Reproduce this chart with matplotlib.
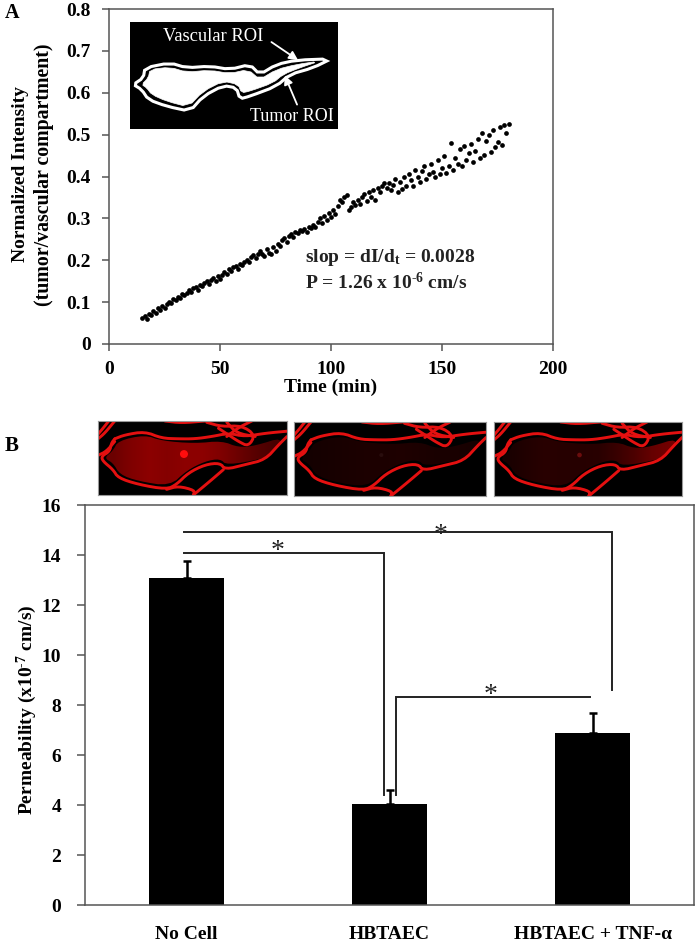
import matplotlib
matplotlib.use("Agg")
import matplotlib.pyplot as plt
import numpy as np
from matplotlib.patches import Polygon, Circle

plt.rcParams["font.family"] = ["Liberation Serif", "DejaVu Serif"]
plt.rcParams["font.weight"] = "bold"
plt.rcParams["mathtext.fontset"] = "custom"
plt.rcParams["mathtext.bf"] = "Liberation Serif:bold"
plt.rcParams["mathtext.rm"] = "Liberation Serif:bold"

W, H = 700, 943
SPINE = "#555555"

# panel A data
time_min = list(range(15, 181))
intensity = [
    .062, .068, .060, .072, .070, .078, .074, .085, .082, .090,
    .086, .095, .100, .098, .107, .104, .113, .110, .120, .116,
    .122, .128, .125, .133, .136, .130, .140, .138, .145, .150,
    .143, .152, .158, .150, .162, .156, .165, .172, .168, .178,
    .175, .183, .186, .180, .192, .188, .196, .200, .195, .207,
    .212, .205, .216, .222, .214, .210, .226, .218, .215, .232,
    .222, .240, .235, .248, .252, .244, .258, .262, .255, .268,
    .264, .272, .270, .275, .268, .280, .276, .285, .280, .292,
    .300, .288, .305, .296, .312, .303, .320, .310, .330, .345,
    .338, .352, .355, .320, .328, .340, .332, .345, .335, .352,
    .358, .342, .364, .350, .368, .345, .372, .362, .378, .384,
    .372, .385, .368, .380, .395, .362, .388, .370, .400, .378,
    .405, .392, .378, .415, .400, .388, .412, .425, .395, .405,
    .430, .410, .398, .440, .405, .420, .450, .408, .425, .480,
    .415, .445, .430, .465, .425, .472, .440, .455, .478, .435,
    .462, .490, .445, .505, .452, .485, .498, .458, .510, .470,
    .482, .518, .475, .522, .505, .525,
]

# panel B data
groups = ["No Cell", "HBTAEC", "HBTAEC + TNF-α"]
permeability = [13.08, 4.05, 6.88]
perm_err = [0.69, 0.55, 0.82]

# significance brackets, (group position, permeability) along each line
bracket_top_x = [-0.01, 2.096, 2.096]
bracket_top_y = [14.92, 14.92, 8.6]
bracket_mid_x = [-0.01, 0.973, 0.973]
bracket_mid_y = [14.09, 14.09, 4.4]
bracket_low_x = [1.032, 1.032, 1.987]
bracket_low_y = [4.4, 8.32, 8.32]

# ROI outlines
inset_outer = [(100, 255), (130, 235), (135, 205), (210, 190), (260, 205), (330, 200), (390, 210),
               (450, 195), (480, 225), (530, 195), (590, 182), (695, 178), (640, 205), (570, 225),
               (530, 260), (450, 290), (420, 298), (410, 265), (370, 258), (310, 290), (270, 335),
               (200, 320), (145, 300), (125, 270)]
inset_inner = [(125, 255), (145, 235), (150, 210), (210, 203), (260, 218), (330, 212), (390, 222),
               (445, 210), (480, 240), (530, 210), (590, 195), (660, 185), (600, 205), (550, 225),
               (520, 250), (450, 275), (425, 280), (415, 255), (370, 245), (310, 275), (265, 322),
               (200, 305), (155, 285), (140, 265)]

red_lines = [
    [(60, 62), (90, 50), (150, 40), (200, 60), (250, 62), (300, 62), (350, 55), (400, 45), (450, 55),
     (510, 45), (585, 38)],
    [(60, 62), (50, 75), (45, 100), (20, 115), (25, 130), (55, 155), (70, 180), (130, 200), (215, 215),
     (245, 200), (280, 165), (330, 140), (375, 135), (390, 155), (450, 140), (510, 125), (550, 80), (575, 55)],
    [(60, 8), (30, 45), (10, 62)],
    [(42, 8), (25, 30), (10, 48)],
    [(60, 70), (35, 100), (10, 112)],
    [(215, 215), (250, 205), (300, 218), (295, 232)],
    [(295, 232), (345, 190), (385, 155)],
    [(210, 8), (260, 14), (330, 8)],
    [(335, 12), (380, 25), (440, 22), (480, 50), (460, 85), (430, 70), (400, 50), (370, 30)],
    [(470, 8), (430, 28), (395, 55)],
    [(395, 12), (425, 45), (480, 55)],
]
tumor_region = [(70, 68), (150, 50), (200, 68), (300, 76), (380, 68), (430, 88), (480, 83), (565, 56),
                (535, 105), (505, 122), (395, 142), (375, 122), (330, 130), (275, 158), (225, 205),
                (130, 190), (75, 170), (55, 135), (28, 120), (55, 98)]

# brightness of the tumor along x, left to right, and the bright spot
panel_rects = [(98, 421, 287, 495), (294, 422, 486, 496), (494, 422, 682, 496)]
panel_glow = [
    [.42, .50, .55, .52, .55, .55, .50, .42, .34, .28],
    [.08, .09, .10, .11, .11, .12, .11, .10, .10, .09],
    [.10, .13, .16, .15, .15, .16, .22, .30, .40, .45],
]
panel_spot = [(1.0, 12), (.16, 6), (.42, 7)]


def px_axes(fig, left, top, right, bottom):
    return fig.add_axes([left / W, 1 - bottom / H, (right - left) / W, (bottom - top) / H])


def style_spines(ax):
    for s in ax.spines.values():
        s.set_color(SPINE)
        s.set_linewidth(1.1)
    ax.tick_params(colors=SPINE, width=1.1, length=5, labelcolor="black", labelsize=14)


def rounded(points, closed=False, passes=2):
    # corner cutting, only for the hand traced outlines
    pts = np.array(points, dtype=float)
    for _ in range(passes):
        a = pts if closed else pts[:-1]
        b = np.roll(pts, -1, axis=0) if closed else pts[1:]
        cut = np.empty((2 * len(a), 2))
        cut[0::2] = 0.75 * a + 0.25 * b
        cut[1::2] = 0.25 * a + 0.75 * b
        pts = cut if closed else np.vstack([pts[0], cut, pts[-1]])
    return pts


fig = plt.figure(figsize=(W / 100, H / 100), dpi=100)

# A
ax_a = px_axes(fig, 109, 9, 553, 344)
ax_a.plot(time_min, intensity, "o", color="black", ms=3.4, mew=0)
ax_a.set_xlim(0, 200)
ax_a.set_ylim(0, 0.8)
ax_a.set_xticks([0, 50, 100, 150, 200])
ax_a.set_yticks(np.arange(0, 0.81, 0.1))
ax_a.set_yticklabels(["0", "0.1", "0.2", "0.3", "0.4", "0.5", "0.6", "0.7", "0.8"])
style_spines(ax_a)
ax_a.tick_params(axis="y", pad=8)
ax_a.tick_params(axis="x", pad=7)
fig.text(331 / W, 1 - 387 / H, "Time (min)", ha="center", va="center", fontsize=14)
fig.text(21 / W, 1 - 174 / H, "Normalized Intensity", rotation=90, ha="center", va="center", fontsize=14)
fig.text(44 / W, 1 - 175 / H, "(tumor/vascular compartment)", rotation=90, ha="center", va="center", fontsize=14.3)
fig.text(305 / W, 1 - 257 / H, r"slop = dI/d$\mathbf{_t}$ = 0.0028", va="center", fontsize=14, color="#222222")
fig.text(305 / W, 1 - 282 / H, "P = 1.26 x 10$\\mathbf{^{\u2010 6}}$ cm/s", va="center", fontsize=14, color="#222222")
fig.text(5 / W, 1 - 13 / H, "A", va="center", fontsize=14.5)

# A inset
ax_in = px_axes(fig, 130, 22, 338, 129)
ax_in.set_facecolor("black")
ax_in.set_xlim(90, 715)
ax_in.set_ylim(388, 68)
ax_in.set_xticks([])
ax_in.set_yticks([])
for s in ax_in.spines.values():
    s.set_visible(False)
ax_in.add_patch(Polygon(rounded(inset_outer, closed=True, passes=1), closed=True, fc="none", ec="white", lw=2.2))
ax_in.add_patch(Polygon(rounded(inset_inner, closed=True, passes=1), closed=True, fc="white", ec="white", lw=0.5))
ax_in.text(190, 110, "Vascular ROI", color="white", weight="normal", fontsize=13.3, va="center")
ax_in.text(452, 350, "Tumor ROI", color="white", weight="normal", fontsize=13, va="center")
arrow = dict(arrowstyle="-|>", color="white", lw=1.3, mutation_scale=13, shrinkA=0, shrinkB=0)
ax_in.annotate("", xy=(595, 182), xytext=(515, 128), arrowprops=arrow)
ax_in.annotate("", xy=(555, 228), xytext=(592, 315), arrowprops=arrow)

# B pictures
for rect, glow, (spot_level, spot_r) in zip(panel_rects, panel_glow, panel_spot):
    ax_p = px_axes(fig, *rect)
    ax_p.set_facecolor("black")
    img = np.zeros((1, len(glow), 3))
    img[0, :, 0] = glow
    im = ax_p.imshow(img, extent=(28, 565, 232, 8), aspect="auto", interpolation="bilinear")
    region = Polygon(rounded(tumor_region, closed=True), closed=True, transform=ax_p.transData, fc="none", ec="none")
    ax_p.add_patch(region)
    im.set_clip_path(region)
    ax_p.add_patch(Circle((267, 108), spot_r, fc=(spot_level, 0.05, 0.05), ec="none"))
    for line in red_lines:
        xy = rounded(line)
        ax_p.plot(xy[:, 0], xy[:, 1], color="#e41010", lw=2.1, solid_capstyle="round", solid_joinstyle="round")
    ax_p.set_xlim(10, 575)
    ax_p.set_ylim(232, 8)
    ax_p.set_xticks([])
    ax_p.set_yticks([])
    for s in ax_p.spines.values():
        s.set_color("#999999")
        s.set_linewidth(0.8)
fig.text(5 / W, 1 - 446 / H, "B", va="center", fontsize=15)

# B
ax_b = px_axes(fig, 85, 505, 694, 905)
xpos = np.arange(len(groups))
ax_b.bar(xpos, permeability, width=0.365, color="black",
         yerr=[[0] * 3, perm_err], ecolor="black",
         error_kw=dict(elinewidth=1.8, capsize=3.2, capthick=1.8))
ax_b.set_xlim(-0.5, 2.5)
ax_b.set_ylim(0, 16)
ax_b.set_xticks(xpos)
ax_b.set_xticklabels(groups, fontsize=15.5)
ax_b.set_yticks(np.arange(0, 17, 2))
style_spines(ax_b)
ax_b.tick_params(axis="y", pad=11, length=6)
ax_b.tick_params(axis="x", length=0, pad=15)
fig.text(27 / W, 1 - 710 / H, "Permeability (x10$\\mathbf{^{\u2010 7}}$ cm/s)", rotation=90,
         ha="center", va="center", fontsize=14)
for bx, by in [(bracket_top_x, bracket_top_y), (bracket_mid_x, bracket_mid_y), (bracket_low_x, bracket_low_y)]:
    ax_b.plot(bx, by, color="#222222", lw=1.4, solid_joinstyle="miter")
for sx, sy in [(0.45, 14.15), (1.25, 14.8), (1.5, 8.4)]:
    ax_b.text(sx, sy, "*", ha="center", va="center", fontsize=20, weight="normal", color="#222222")

fig.savefig("out.png", dpi=100)
